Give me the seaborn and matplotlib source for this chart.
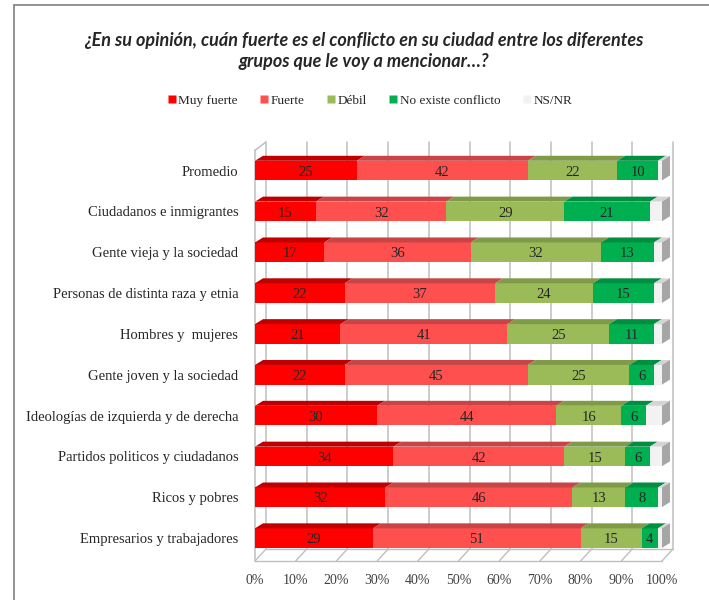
import numpy as np
import pandas as pd
import matplotlib
matplotlib.use("Agg")
import matplotlib.pyplot as plt
import seaborn as sns
from matplotlib.patches import Polygon
from matplotlib.lines import Line2D

# ---------------- data ----------------
categories = [
    "Promedio",
    "Ciudadanos e inmigrantes",
    "Gente vieja y la sociedad",
    "Personas de distinta raza y etnia",
    "Hombres y  mujeres",
    "Gente joven y la sociedad",
    "Ideologías de izquierda y de derecha",
    "Partidos politicos y ciudadanos",
    "Ricos y pobres",
    "Empresarios y trabajadores",
]
muy_fuerte = [25, 15, 17, 22, 21, 22, 30, 34, 32, 29]
fuerte = [42, 32, 36, 37, 41, 45, 44, 42, 46, 51]
debil = [22, 29, 32, 24, 25, 25, 16, 15, 13, 15]
no_existe = [10, 21, 13, 15, 11, 6, 6, 6, 8, 4]
ns_nr = [1, 3, 2, 2, 2, 2, 4, 3, 1, 1]

series_names = ["Muy fuerte", "Fuerte", "Débil", "No existe conflicto", "NS/NR"]
series_values = [muy_fuerte, fuerte, debil, no_existe, ns_nr]
labelled = [True, True, True, True, False]

x_ticks = [0, 10, 20, 30, 40, 50, 60, 70, 80, 90, 100]
x_tick_labels = ["0%", "10%", "20%", "30%", "40%", "50%", "60%", "70%", "80%", "90%", "100%"]

title_text = ("¿En su opinión, cuán fuerte es el conflicto en su ciudad entre los diferentes\n"
              "grupos que le voy a mencionar…?")

# ---------------- style ----------------
colors = ["#FF0000", "#FF5050", "#9BBB59", "#00B050", "#F2F2F2"]
top_colors = ["#C00000", "#C94545", "#7F9B47", "#008F40", "#D4D4D4"]
side_color = "#A6A6A6"
grid_color = "#BFBFBF"

sns.set_style("white")
plt.rcParams["font.family"] = ["Liberation Serif", "DejaVu Serif"]

W, H, DPI = 709, 600, 100
fig = plt.figure(figsize=(W / DPI, H / DPI), dpi=DPI)

ax_left_px, ax_right_px = 255, 662
ax_top_px, ax_bot_px = 142, 561
ax = fig.add_axes([ax_left_px / W, 1 - ax_bot_px / H,
                   (ax_right_px - ax_left_px) / W, (ax_bot_px - ax_top_px) / H])

y_top, y_bot = -0.70, 9.56
bar_h = 0.48

# long-form table with cumulative ends
rows = []
cum = np.zeros(len(categories))
for name, vals in zip(series_names, series_values):
    vals = np.array(vals, dtype=float)
    start = cum.copy()
    cum = cum + vals
    for i, c in enumerate(categories):
        rows.append({"categoria": c, "serie": name, "valor": vals[i],
                     "inicio": start[i], "fin": cum[i]})
df = pd.DataFrame(rows)

# stacked bars: draw cumulative ends from the last series to the first
for k in range(len(series_names) - 1, -1, -1):
    sub = df[df["serie"] == series_names[k]]
    sns.barplot(data=sub, x="fin", y="categoria", order=categories, orient="h",
                color=colors[k], saturation=1, width=bar_h, ax=ax,
                edgecolor="none", linewidth=0, zorder=3, errorbar=None)

ax.set_xlim(0, 100)
ax.set_ylim(y_bot, y_top)

# pixel -> data conversion for the 3D depth effect
px_x = 100 / (ax_right_px - ax_left_px)
px_y = (y_bot - y_top) / (ax_bot_px - ax_top_px)
bdx, bdy = 8 * px_x, 5 * px_y      # bar top-face depth
gdx, gdy = 11 * px_x, 12 * px_y    # wall / floor depth

# back wall gridlines, floor and left wall
floor_back = y_bot - gdy
for t in x_ticks:
    ax.plot([t + gdx, t + gdx], [y_top, floor_back], color=grid_color, lw=1.1,
            zorder=1, clip_on=False)
    ax.plot([t, t + gdx], [y_bot, floor_back], color=grid_color, lw=1.0,
            zorder=1, clip_on=False)
ax.plot([0, 100], [y_bot, y_bot], color=grid_color, lw=1.0, zorder=1, clip_on=False)
ax.plot([gdx, 100 + gdx], [floor_back, floor_back], color=grid_color, lw=1.0, zorder=1, clip_on=False)
ax.plot([0, 0], [y_bot, y_top + gdy * 0.7], color=grid_color, lw=1.1, zorder=1, clip_on=False)
ax.plot([0, gdx], [y_top + gdy * 0.7, y_top], color=grid_color, lw=1.1, zorder=1, clip_on=False)

# top faces, side faces and value labels
for i, c in enumerate(categories):
    yt = i - bar_h / 2
    yb = i + bar_h / 2
    sub = df[df["categoria"] == c].reset_index(drop=True)
    for k in range(len(series_names)):
        l, r, v = sub.loc[k, "inicio"], sub.loc[k, "fin"], sub.loc[k, "valor"]
        if v <= 0:
            continue
        ax.add_patch(Polygon([(l, yt), (r, yt), (r + bdx, yt - bdy), (l + bdx, yt - bdy)],
                             closed=True, facecolor=top_colors[k], edgecolor="none",
                             zorder=4, clip_on=False))
        if labelled[k]:
            ax.text((l + r) / 2, i + 0.04, f"{int(v)}", ha="center", va="center",
                    fontsize=10.5, color="#262626", zorder=6)
    end = sub["fin"].iloc[-1]
    ax.add_patch(Polygon([(end, yt), (end + bdx, yt - bdy), (end + bdx, yb - bdy), (end, yb)],
                         closed=True, facecolor=side_color, edgecolor="none",
                         zorder=4, clip_on=False))

# axes decoration
for s in ax.spines.values():
    s.set_visible(False)
ax.grid(False)
ax.set_xlabel("")
ax.set_ylabel("")
ax.set_xticks(x_ticks)
ax.set_xticklabels(x_tick_labels)
ax.tick_params(axis="x", length=0, pad=9, labelsize=10, labelcolor="#404040")
ax.tick_params(axis="y", length=0, pad=12, labelsize=10.5, labelcolor="#262626")

# legend
handles = [Line2D([0], [0], marker="s", linestyle="none", markersize=5.5,
                  markerfacecolor=col, markeredgecolor="none") for col in colors]
fig.legend(handles, series_names, loc="center", bbox_to_anchor=(370 / W, 1 - 101 / H),
           ncol=5, frameon=False, fontsize=9.5, handlelength=0.6, handletextpad=0.2,
           columnspacing=1.7, labelcolor="#262626")

# title
fig.text(364 / W, 1 - 51 / H, title_text, ha="center", va="center", fontsize=13,
         fontweight="bold", style="italic", family=["Lato", "DejaVu Sans"],
         color="#262626", linespacing=1.25)

# frame lines
fig.add_artist(Line2D([14 / W, 14 / W], [0, 1 - 5 / H], transform=fig.transFigure,
                      color="#7F7F7F", lw=1.2))
fig.add_artist(Line2D([14 / W, 1], [1 - 5 / H, 1 - 5 / H], transform=fig.transFigure,
                      color="#7F7F7F", lw=1.2))

fig.savefig("out.png", dpi=DPI, facecolor="white")
